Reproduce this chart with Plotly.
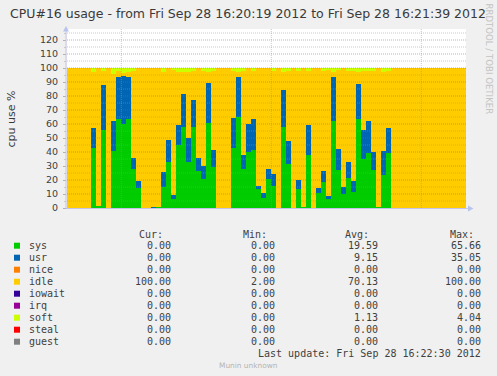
import plotly.graph_objects as go

# ---------------- data (one sample per second, 16:20:19 -> 16:21:39) ----------------
seconds = list(range(80))

sys_vals = [0, 0, 0, 0, 0, 43, 1.5, 56, 0, 41,
            63.6, 59.8, 63.6, 27.9, 14.5, 0, 0, 0, 1, 15.2,
            33, 6.4, 45, 58, 33, 58, 26.7, 21, 61, 29.5,
            0, 0, 0, 43, 65.2, 27.9, 40.2, 41.4, 13.3, 7.4,
            20.5, 16, 0, 58, 31.7, 0, 13.8, 1, 37.9, 0,
            11, 18.8, 6.2, 62, 27, 9.8, 21.7, 11.7, 63.6, 35,
            39.5, 27, 1, 23.6, 39.3, 0, 0, 0, 0, 0,
            0, 0, 0, 0, 0, 0, 0, 0, 0, 0]

usr_vals = [0, 0, 0, 0, 0, 14, 0, 31.9, 0, 21,
            30.2, 34.7, 30.2, 7.8, 4.8, 0, 0, 1, 0, 10.8,
            15.6, 3.1, 14.3, 23.4, 17, 19, 9, 9, 28.5, 11.9,
            0, 0, 0, 21.5, 28.6, 10, 19.8, 22.2, 2.7, 3.6,
            7.4, 8.3, 0, 26.5, 16.4, 0, 6.2, 0, 21.6, 0,
            3.5, 7.6, 2.6, 31.8, 15.1, 5.4, 11.2, 7.6, 25, 20.7,
            22.5, 13, 0, 17.1, 17.8, 0, 0, 0, 0, 0,
            0, 0, 0, 0, 0, 0, 0, 0, 0, 0]

nice_vals = [0] * 80

idle_vals = [100, 100, 100, 100, 100, 40.1, 98.5, 9.7, 100, 34,
             4.0, 2.0, 3.6, 62.2, 80.7, 100, 100, 99, 99, 71.4,
             51.4, 89, 37.7, 15.6, 47, 21, 64.3, 68, 7.5, 56.6,
             100, 100, 100, 33.1, 3.0, 59.7, 40, 34, 84, 89,
             72.1, 73.3, 100, 12.5, 49.9, 100, 78, 99, 38.1, 100,
             85.5, 71.6, 89.7, 3.2, 56.4, 84.8, 65.1, 78.3, 8.4, 41.9,
             35.8, 58, 99, 56.7, 40.5, 100, 100, 100, 100, 100,
             100, 100, 100, 100, 100, 100, 100, 100, 100, 100]

iowait_vals = [0] * 80
irq_vals = [0] * 80

soft_vals = [0, 0, 0, 0, 0, 2.9, 0, 2.4, 0, 4.0,
             2.2, 3.5, 2.6, 2.1, 0, 0, 0, 0, 0, 2.6,
             0, 1.5, 3.0, 3.0, 3.0, 2.0, 0, 2.0, 3.0, 2.0,
             0, 0, 0, 2.4, 3.2, 2.4, 0, 2.4, 0, 0,
             0, 2.4, 0, 3.0, 2.0, 0, 2.0, 0, 2.4, 0,
             0, 2.0, 1.5, 3.0, 1.5, 0, 2.0, 2.4, 3.0, 2.4,
             2.2, 2.0, 0, 2.6, 2.4, 0, 0, 0, 0, 0,
             0, 0, 0, 0, 0, 0, 0, 0, 0, 0]

steal_vals = [0] * 80
guest_vals = [0] * 80

series_names = ["sys", "usr", "nice", "idle", "iowait", "irq", "soft", "steal", "guest"]
series_values = [sys_vals, usr_vals, nice_vals, idle_vals, iowait_vals,
                 irq_vals, soft_vals, steal_vals, guest_vals]
series_colors = ["#00CC00", "#0066B3", "#FF8000", "#FFCC00", "#330099",
                 "#990099", "#CCFF00", "#FF0000", "#808080"]

# legend statistics as printed
stat_cur = ["0.00", "0.00", "0.00", "100.00", "0.00", "0.00", "0.00", "0.00", "0.00"]
stat_min = ["0.00", "0.00", "0.00", "2.00", "0.00", "0.00", "0.00", "0.00", "0.00"]
stat_avg = ["19.59", "9.15", "0.00", "70.13", "0.00", "0.00", "1.13", "0.00", "0.00"]
stat_max = ["65.66", "35.05", "0.00", "100.00", "0.00", "0.00", "4.04", "0.00", "0.00"]

y_ticks = list(range(0, 121, 10))
y_minor = list(range(5, 126, 5))
x_grid = [11, 41, 71]          # 16:20:30, 16:21:00, 16:21:30

title_text = "CPU#16 usage - from Fri Sep 28 16:20:19 2012 to Fri Sep 28 16:21:39 2012"
last_update = "Last update: Fri Sep 28 16:22:30 2012"

# ---------------- layout geometry (pixels) ----------------
W, H = 497, 376
L, R, T, B = 67, 466, 29, 208
PW, PH = R - L, B - T
Y_MAX = PH / 1.4


def xp(px):
    return (px - L) / PW


def yp(py):
    return (B - py) / PH


fig = go.Figure()
for name, vals, col in zip(series_names, series_values, series_colors):
    fig.add_trace(go.Bar(
        x=[s + 0.5 for s in seconds], y=vals, width=1.0, name=name,
        marker=dict(color=col, line=dict(width=0)),
        hoverinfo="skip", showlegend=False))

shapes = []
# horizontal grid (drawn over the areas, as rrdtool does)
for v in y_minor:
    if v % 10 == 0:
        col = "rgba(235,60,60,0.5)"
    else:
        col = "rgba(150,150,150,0.5)"
    shapes.append(dict(type="line", xref="paper", yref="y", x0=0, x1=1, y0=v, y1=v,
                       line=dict(color=col, width=1, dash="1px,1px"), layer="above"))
for v in x_grid:
    shapes.append(dict(type="line", xref="x", yref="paper", x0=v, x1=v, y0=0, y1=1,
                       line=dict(color="rgba(150,150,150,0.5)", width=1, dash="1px,1px"),
                       layer="above"))
# axes with arrows
axis_col = "#C4C4E6"
shapes.append(dict(type="line", xref="paper", yref="paper", x0=xp(66), x1=xp(66),
                   y0=yp(208.5), y1=yp(30), line=dict(color=axis_col, width=1), layer="above"))
shapes.append(dict(type="line", xref="paper", yref="paper", x0=xp(66), x1=xp(469),
                   y0=yp(208.5), y1=yp(208.5), line=dict(color=axis_col, width=1), layer="above"))
shapes.append(dict(type="path", xref="paper", yref="paper",
                   path=f"M {xp(63)} {yp(31.5)} L {xp(69)} {yp(31.5)} L {xp(66)} {yp(26)} Z",
                   fillcolor="#B8C4F0", line=dict(width=0), layer="above"))
shapes.append(dict(type="path", xref="paper", yref="paper",
                   path=f"M {xp(468)} {yp(205.5)} L {xp(468)} {yp(211.5)} L {xp(473.5)} {yp(208.5)} Z",
                   fillcolor="#B8C4F0", line=dict(width=0), layer="above"))

annotations = []
# title
annotations.append(dict(text=title_text, xref="paper", yref="paper", x=xp(248), y=yp(14),
                        showarrow=False, xanchor="center", yanchor="middle",
                        font=dict(family="DejaVu Sans", size=12.5, color="#3a3a3a")))
# y label
annotations.append(dict(text="cpu use %", xref="paper", yref="paper", x=xp(11), y=yp(119.5),
                        showarrow=False, textangle=-90, xanchor="center", yanchor="middle",
                        font=dict(family="DejaVu Sans", size=11, color="#3a3a3a")))
# rrdtool credit
annotations.append(dict(text="RRDTOOL / TOBI OETIKER", xref="paper", yref="paper",
                        x=xp(488.5), y=yp(59), showarrow=False, textangle=90,
                        xanchor="center", yanchor="middle",
                        font=dict(family="DejaVu Sans", size=8.6, color="#c4c4c4")))

mono = "DejaVu Sans Mono"
txt_col = "#404040"
for hdr, hx in zip(["Cur:", "Min:", "Avg:", "Max:"], [137, 241, 343, 448]):
    annotations.append(dict(text=hdr, xref="paper", yref="paper", x=xp(hx), y=yp(234),
                            showarrow=False, xanchor="left", yanchor="middle",
                            font=dict(family=mono, size=10, color=txt_col)))

for k, name in enumerate(series_names):
    ry = 245.7 + 12 * k
    shapes.append(dict(type="rect", xref="paper", yref="paper",
                       x0=xp(14), x1=xp(20), y0=yp(ry + 3), y1=yp(ry - 3),
                       fillcolor=series_colors[k], line=dict(width=0)))
    annotations.append(dict(text=name, xref="paper", yref="paper", x=xp(26.5), y=yp(ry),
                            showarrow=False, xanchor="left", yanchor="middle",
                            font=dict(family=mono, size=10, color=txt_col)))
    for stat, rx in zip([stat_cur, stat_min, stat_avg, stat_max], [172.5, 276.5, 379.5, 483.5]):
        annotations.append(dict(text=stat[k], xref="paper", yref="paper", x=xp(rx), y=yp(ry),
                                showarrow=False, xanchor="right", yanchor="middle",
                                font=dict(family=mono, size=10, color=txt_col)))

annotations.append(dict(text=last_update, xref="paper", yref="paper", x=xp(483.5), y=yp(353.7),
                        showarrow=False, xanchor="right", yanchor="middle",
                        font=dict(family=mono, size=10, color=txt_col)))
annotations.append(dict(text="Munin unknown", xref="paper", yref="paper", x=xp(248.5), y=yp(365.3),
                        showarrow=False, xanchor="center", yanchor="middle",
                        font=dict(family="DejaVu Sans", size=7.4, color="#b4b4b4")))

fig.update_layout(
    width=W, height=H, autosize=False,
    margin=dict(l=L, r=W - R, t=T, b=H - B, pad=0),
    paper_bgcolor="#F0F0F0", plot_bgcolor="#FFFFFF",
    barmode="stack", bargap=0, bargroupgap=0,
    showlegend=False, hovermode=False,
    shapes=shapes, annotations=annotations,
    xaxis=dict(range=[0.14, 79.94], showgrid=False, zeroline=False, showline=False,
               showticklabels=False, ticks="", fixedrange=True),
    yaxis=dict(range=[0, Y_MAX], tickvals=y_ticks, ticktext=[str(v) for v in y_ticks],
               showgrid=False, zeroline=False, showline=False,
               ticks="outside", ticklen=3, tickcolor="#b0b0b0", ticklabelstandoff=3,
               tickfont=dict(family="DejaVu Sans", size=9.5, color="#404040"),
               minor=dict(tickvals=y_minor, ticks="outside", ticklen=2, tickcolor="#c8c8c8"),
               fixedrange=True),
)

fig.write_html("out.html", config={"displayModeBar": False, "staticPlot": True},
               post_script="document.body.style.margin='0px';document.body.style.background='#F0F0F0';")
